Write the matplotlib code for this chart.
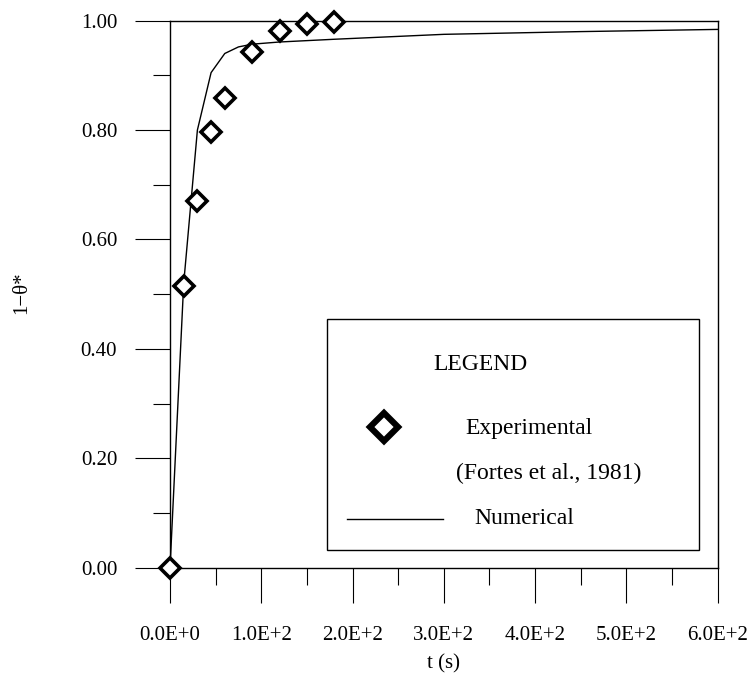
import numpy as np
import matplotlib
matplotlib.use("Agg")
import matplotlib.pyplot as plt
from matplotlib.patches import Rectangle
from matplotlib.ticker import MultipleLocator, FuncFormatter

plt.rcParams['font.family'] = ['Liberation Serif', 'DejaVu Serif']

# experimental points (Fortes et al., 1981)
t_exp = [0, 15, 30, 45, 60, 90, 120, 150, 180]
y_exp = [0.0, 0.515, 0.670, 0.797, 0.859, 0.942, 0.982, 0.994, 0.998]

# numerical curve
t_num = [0, 15, 30, 45, 60, 75, 90, 120, 180, 300, 450, 600]
y_num = [0.0, 0.52, 0.80, 0.905, 0.940, 0.952, 0.957, 0.961, 0.966, 0.975, 0.980, 0.984]

fig = plt.figure(figsize=(7.51, 6.73), dpi=100)
ax = fig.add_axes([0.2264, 0.1565, 0.7290, 0.8128])

ax.plot(t_num, y_num, color='black', lw=1.0, clip_on=False)
ax.plot(t_exp, y_exp, ls='none', marker='D', ms=10, mfc='white', mec='black',
        mew=2.6, clip_on=False, zorder=5)

ax.set_xlim(0, 600)
ax.set_ylim(0, 1.0)
ax.xaxis.set_major_locator(MultipleLocator(100))
ax.xaxis.set_minor_locator(MultipleLocator(50))
ax.yaxis.set_major_locator(MultipleLocator(0.2))
ax.yaxis.set_minor_locator(MultipleLocator(0.1))
ax.xaxis.set_major_formatter(FuncFormatter(lambda v, p: "%.1fE+%d" % (v / 100, 2) if v > 0 else "0.0E+0"))
ax.yaxis.set_major_formatter(FuncFormatter(lambda v, p: "%.2f" % v))

ax.tick_params(which='major', direction='out', length=25, width=0.8, labelsize=15, pad=13)
ax.tick_params(which='minor', direction='out', length=12.5, width=0.8)
ax.tick_params(axis='x', which='major', pad=17)
for s in ax.spines.values():
    s.set_linewidth(1.0)

ax.set_xlabel("t (s)", fontsize=15, labelpad=7)
fig.text(22 / 751, 1 - 293 / 673, "1\u2212\u03b8*", rotation=90, fontsize=15,
         ha='center', va='center')

# legend box
ax.add_patch(Rectangle((0.2867, 0.0324), 0.68, 0.4217, transform=ax.transAxes,
                       fill=False, ec='black', lw=1.0, zorder=6))
ax.text(0.567, 0.3706, "LEGEND", transform=ax.transAxes, fontsize=17,
        ha='center', va='center')
ax.plot([0.3916], [0.2578], transform=ax.transAxes, marker='D', ms=14,
        mfc='white', mec='black', mew=4.5, ls='none')
ax.text(0.5398, 0.2536, "Experimental", transform=ax.transAxes, fontsize=17,
        ha='left', va='center')
ax.text(0.5215, 0.1731, "(Fortes et al., 1981)", transform=ax.transAxes, fontsize=17,
        ha='left', va='center')
ax.plot([0.3233, 0.4995], [0.089, 0.089], transform=ax.transAxes, color='black', lw=1.0)
ax.text(0.5563, 0.089, "Numerical", transform=ax.transAxes, fontsize=17,
        ha='left', va='center')

fig.savefig("out.png", dpi=100)
